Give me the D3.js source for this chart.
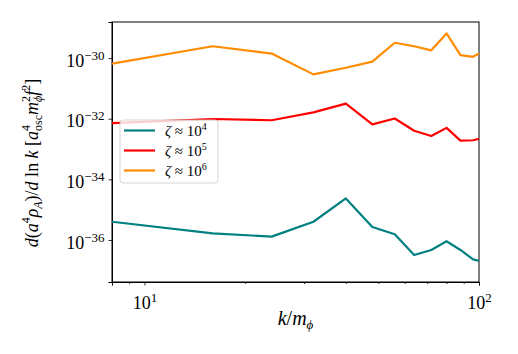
<!DOCTYPE html>
<html>
<head>
<meta charset="utf-8">
<script src="https://cdn.jsdelivr.net/npm/d3@7"></script>
<style>
  body { margin: 0; background: #fff; }
  svg { display: block; font-family: "Liberation Serif", "DejaVu Serif", serif; }
  svg text { font-family: "Liberation Serif", "DejaVu Serif", serif; }
</style>
</head>
<body>
<svg id="chart" width="518" height="354"></svg>
<script>
// k / m_phi sample points (last one falls just past the right edge and gets clipped)
var kValues = [8, 16, 24, 32, 40, 48, 56, 64, 72, 80, 88, 96, 104];

var zeta4 = [4.0e-36, 1.66e-36, 1.29e-36, 4.0e-36, 2.35e-35, 2.7e-36, 1.55e-36, 3.2e-37, 4.7e-37, 9.1e-37, 4.7e-37, 2.3e-37, 1.86e-37];
var zeta5 = [7.2e-33, 9.8e-33, 8.9e-33, 1.62e-32, 3.16e-32, 6.5e-33, 1.02e-32, 4.0e-33, 2.7e-33, 5.0e-33, 1.9e-33, 1.95e-33, 2.4e-33];
var zeta6 = [6.6e-31, 2.45e-30, 1.41e-30, 2.9e-31, 4.8e-31, 7.6e-31, 3.2e-30, 2.45e-30, 1.8e-30, 6.5e-30, 1.26e-30, 1.1e-30, 1.78e-30];

var seriesNames = ["4", "5", "6"];   // exponent shown in the legend
var seriesColors = ["#008080", "#ff0000", "#ff8c00"];

var xMajor = [10, 100];
var xMinor = [9, 20, 30, 40, 50, 60, 70, 80, 90];
var yMajor = [1e-36, 1e-34, 1e-32, 1e-30];

var margin = {top: 22, right: 39, bottom: 72, left: 112}
  , width = 518 - margin.left - margin.right
  , height = 354 - margin.top - margin.bottom;

var svg = d3.select("#chart");
var g = svg.append("g").attr("transform", "translate(" + margin.left + "," + margin.top + ")");

var xScale = d3.scaleLog().domain([8, 100]).range([0, width]);
var yScale = d3.scaleLog().domain([Math.pow(10, -37.385), Math.pow(10, -28.81)]).range([height, 0]);

svg.append("defs").append("clipPath").attr("id", "clip")
  .append("rect").attr("width", width).attr("height", height);

// writes 10^exp into a text node
function powLabel(sel, exp, supSize, dy) {
  sel.text(null);
  sel.append("tspan").text("10");
  sel.append("tspan").attr("dy", -dy).attr("font-size", supSize).text(exp);
}

// x axis
var xAxis = g.append("g")
    .attr("transform", "translate(0," + height + ")")
    .call(d3.axisBottom(xScale).tickValues(xMajor).tickSize(3.5).tickPadding(5).tickFormat(""));
xAxis.attr("font-family", null);
xAxis.selectAll(".tick text").each(function(d) {
  powLabel(d3.select(this), String(Math.round(Math.log10(d))), 13, 7);
}).attr("font-size", 18).attr("dy", "1em").attr("fill", "#000");

g.append("g")
    .attr("transform", "translate(0," + height + ")")
    .call(d3.axisBottom(xScale).tickValues(xMinor).tickSize(2).tickFormat(""))
    .select(".domain").remove();

// y axis
var yAxis = g.append("g")
    .call(d3.axisLeft(yScale).tickValues(yMajor).tickSize(3.5).tickPadding(4).tickFormat(""));
yAxis.attr("font-family", null);
yAxis.selectAll(".tick text").each(function(d) {
  powLabel(d3.select(this), "\u2212" + Math.round(-Math.log10(d)), 13, 7);
}).attr("font-size", 18).attr("dy", "0.45em").attr("fill", "#000");

g.selectAll(".domain").attr("stroke", "#000");
g.selectAll(".tick line").attr("stroke", "#000").attr("stroke-width", 0.8);

// frame
g.append("rect")
    .attr("width", width).attr("height", height)
    .attr("fill", "none").attr("stroke", "#000").attr("stroke-width", 1);

// lines
var line = d3.line()
    .x(function(d) { return xScale(d.k); })
    .y(function(d) { return yScale(d.v); });

[zeta4, zeta5, zeta6].forEach(function(vals, i) {
  var data = kValues.map(function(k, j) { return {k: k, v: vals[j]}; });
  g.append("path")
      .datum(data)
      .attr("clip-path", "url(#clip)")
      .attr("fill", "none")
      .attr("stroke", seriesColors[i])
      .attr("stroke-width", 2.2)
      .attr("stroke-linejoin", "round")
      .attr("d", line);
});

// legend
var leg = svg.append("g").attr("transform", "translate(120,120)");
leg.append("rect")
    .attr("width", 98).attr("height", 63).attr("rx", 3)
    .attr("fill", "#fff").attr("fill-opacity", 0.8)
    .attr("stroke", "#ccc").attr("stroke-width", 0.8);
seriesNames.forEach(function(n, i) {
  var y = 10.5 + i * 20;
  leg.append("line")
      .attr("x1", 4).attr("x2", 35).attr("y1", y).attr("y2", y)
      .attr("stroke", seriesColors[i]).attr("stroke-width", 2.2);
  var t = leg.append("text").attr("x", 45).attr("y", y + 5).attr("font-size", 15);
  t.append("tspan").attr("font-style", "italic").text("\u03b6");
  t.append("tspan").text(" \u2248 10");
  t.append("tspan").attr("dy", -6).attr("font-size", 10).text(n);
});

// x label
var xl = svg.append("text")
    .attr("x", margin.left + width / 2).attr("y", 325)
    .attr("text-anchor", "middle").attr("font-size", 20);
xl.append("tspan").attr("font-style", "italic").text("k");
xl.append("tspan").text("/");
xl.append("tspan").attr("font-style", "italic").text("m");
xl.append("tspan").attr("font-size", 13).attr("dy", 4).attr("font-style", "italic").text("\u03d5");

// y label
var yl = svg.append("text")
    .attr("transform", "translate(38,163) rotate(-90)")
    .attr("text-anchor", "middle").attr("font-size", 18);
function part(txt, opt) {
  var s = yl.append("tspan").text(txt);
  if (opt && opt.it) s.attr("font-style", "italic");
  if (opt && opt.fs) s.attr("font-size", opt.fs);
  if (opt && opt.dy) s.attr("dy", opt.dy);
  if (opt && opt.dx) s.attr("dx", opt.dx);
  return s;
}
part("d", {it: 1}); part("(");
part("a", {it: 1}); part("4", {fs: 12, dy: -8});
part("\u03c1", {it: 1, dy: 8}); part("A", {it: 1, fs: 12, dy: 4});
part(")/", {dy: -4}); part("d", {it: 1}); part(" ln ");
part("k", {it: 1}); part(" [");
part("a", {it: 1}); part("4", {fs: 12, dy: -8});
part("osc", {fs: 12, dx: -6, dy: 12});
part("m", {it: 1, dy: -4}); part("2", {fs: 12, dy: -8});
part("\u03d5", {it: 1, fs: 12, dx: -6, dy: 12});
part("f", {it: 1, dy: -4}); part("2", {fs: 12, dy: -8});
part("]", {dy: 8});
</script>
</body>
</html>
